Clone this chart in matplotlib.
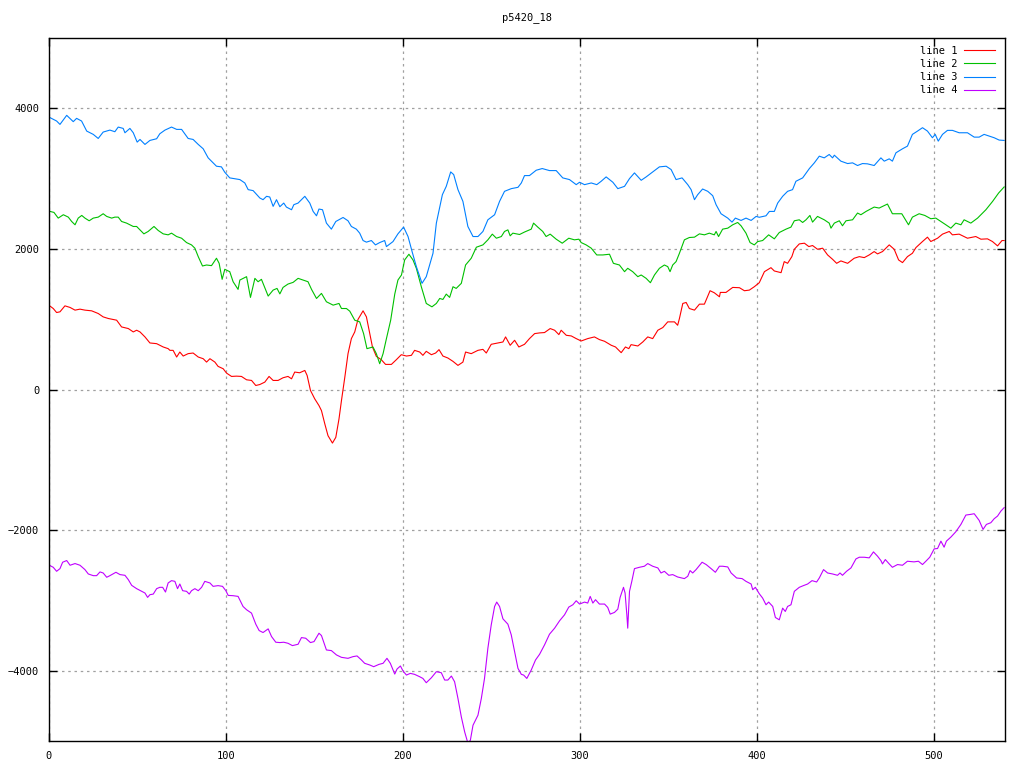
import matplotlib
matplotlib.use('Agg')
import matplotlib.pyplot as plt

# values (x, y)
line1_pts = [(0.6, 1186), (2.4, 1152), (4.3, 1095), (6.2, 1105), (9, 1190), (11.9, 1167), (14.7, 1129),
             (17.5, 1143), (20.3, 1129), (24.1, 1119), (27.8, 1081), (30.6, 1033), (33.5, 1010), (38.2, 986),
             (41, 890), (44.8, 867), (47.6, 819), (49.5, 843), (51.4, 819), (54.2, 748), (57, 662), (60.8, 652),
             (64.5, 605), (67.3, 581), (68.3, 557), (70.1, 557), (72.1, 462), (73.9, 533), (75.8, 476),
             (78.6, 510), (81.4, 519), (84.3, 462), (87.1, 438), (89, 390), (90.9, 438), (93.7, 390),
             (95.5, 329), (98.4, 295), (100.3, 233), (103.1, 186), (105.9, 190), (108.7, 186), (111.6, 138),
             (114.4, 129), (116.8, 57), (119.1, 71), (121.9, 105), (124.3, 186), (126.6, 129), (129.4, 129),
             (132.2, 167), (135, 186), (137, 152), (138.8, 248), (141.6, 238), (144.5, 271), (145.8, 200),
             (147.7, -14), (150.1, -133), (152.5, -229), (153.9, -300), (155.8, -490), (157.6, -657),
             (160.1, -762), (162, -681), (163.8, -419), (165.2, -157), (167.1, 176), (168.9, 510), (170.8, 724),
             (172.7, 819), (174.5, 995), (177.4, 1119), (179.3, 1033), (180.8, 843), (182.7, 605), (184.9, 471),
             (187.7, 424), (190.1, 357), (193.4, 357), (196.2, 424), (199, 495), (201.9, 476), (204.7, 486),
             (206.5, 557), (209.4, 533), (211.2, 486), (213.1, 543), (216, 495), (218.4, 519), (220.3, 567),
             (222.5, 476), (225.3, 448), (228.2, 400), (231, 343), (233.8, 390), (235.3, 533), (238.5, 510),
             (242.3, 557), (245.1, 571), (247, 519), (249.8, 643), (253.6, 662), (256.4, 676), (257.9, 748),
             (260.5, 629), (263, 700), (265.4, 605), (268.6, 643), (271.4, 724), (274.3, 795), (277.1, 805),
             (279.9, 810), (283.1, 867), (285.6, 843), (288, 781), (289.3, 843), (292.2, 771), (295, 762),
             (297.8, 724), (300.6, 690), (304.3, 724), (308.1, 748), (310.9, 710), (313.8, 686), (317.6, 629),
             (320, 605), (323.2, 524), (325.6, 605), (327.5, 581), (328.8, 638), (332.6, 619), (335.4, 676),
             (338.2, 748), (341, 724), (343.9, 843), (346.7, 881), (349.5, 962), (353.3, 962), (355.1, 914),
             (356.1, 1010), (358, 1224), (359.9, 1238), (361.7, 1152), (364.6, 1129), (367.4, 1214),
             (370.2, 1214), (373.4, 1405), (375.8, 1376), (378.7, 1319), (379.2, 1381), (382.4, 1381),
             (386.2, 1452), (390, 1448), (392.8, 1405), (395.6, 1414), (398.4, 1462), (401.2, 1519),
             (404.1, 1676), (407.8, 1733), (409.7, 1686), (413.5, 1662), (415.3, 1819), (417.2, 1795),
             (419.6, 1890), (421, 1995), (423.8, 2071), (426.7, 2081), (429.2, 2033), (431.3, 2048),
             (434.1, 1995), (437, 2010), (439.8, 1914), (442.6, 1852), (444.9, 1795), (447.3, 1829),
             (451.1, 1795), (454.8, 1867), (457.7, 1890), (460.5, 1876), (463.3, 1914), (466.1, 1962),
             (468, 1929), (470.8, 1962), (474.6, 2057), (477.4, 1995), (479.9, 1843), (482.1, 1805),
             (484.9, 1890), (487.7, 1938), (489.7, 2019), (493.4, 2105), (496.2, 2167), (498.1, 2105),
             (501.9, 2152), (504.7, 2210), (508.5, 2248), (510.3, 2200), (514.1, 2210), (518.8, 2152),
             (523.5, 2176), (526.4, 2138), (530.1, 2143), (532.9, 2105), (535.8, 2043), (538.3, 2119),
             (539.5, 2119)]

line2_pts = [(0.6, 2533), (2.8, 2519), (5.2, 2438), (8.1, 2486), (10.9, 2452), (12.8, 2390), (14.7, 2343),
             (16.5, 2438), (18.5, 2476), (20.3, 2438), (22.7, 2400), (25, 2438), (27.8, 2452), (30.6, 2500),
             (32.6, 2462), (35.4, 2438), (37.2, 2452), (39.1, 2452), (41, 2390), (43.8, 2367), (47.6, 2319),
             (49.5, 2319), (51.4, 2271), (53.6, 2214), (56, 2248), (59.3, 2319), (61.7, 2262), (64.5, 2214),
             (67.3, 2200), (69.2, 2224), (72.1, 2176), (74.9, 2152), (77.7, 2090), (80.5, 2057), (82.4, 2010),
             (84.3, 1890), (86.7, 1757), (89, 1771), (91.8, 1762), (94.6, 1867), (96.1, 1795), (97.8, 1567),
             (99.3, 1710), (102.1, 1676), (104, 1533), (106.8, 1424), (107.8, 1557), (111.6, 1605),
             (113.8, 1310), (116.3, 1581), (118.1, 1533), (120, 1567), (123.8, 1329), (126.6, 1414),
             (128.8, 1438), (130.4, 1360), (132.2, 1452), (135, 1500), (137.9, 1524), (140.7, 1581),
             (143.5, 1557), (146.3, 1533), (148.3, 1424), (151.1, 1295), (153.9, 1367), (156.7, 1248),
             (160.5, 1200), (163.8, 1224), (165.2, 1152), (168, 1152), (169.9, 1114), (172.7, 986),
             (175.5, 962), (177.7, 795), (179.6, 581), (183, 605), (184.9, 510), (186.8, 367), (188.7, 510),
             (190.6, 724), (193, 986), (195.3, 1357), (197.1, 1557), (199.1, 1629), (200.9, 1843),
             (203.3, 1924), (205.6, 1843), (207.5, 1724), (210.3, 1462), (213.1, 1224), (216.3, 1176),
             (218.8, 1224), (220.7, 1295), (222.5, 1281), (224.4, 1357), (226.3, 1310), (228.2, 1462),
             (230, 1438), (232.9, 1510), (235.3, 1771), (238.5, 1867), (241.4, 2024), (245.1, 2057),
             (247.9, 2129), (250.4, 2210), (252.7, 2152), (255.5, 2176), (257.3, 2248), (259.2, 2271),
             (260.5, 2186), (262, 2224), (265.8, 2205), (268.6, 2240), (272.4, 2281), (273.7, 2367),
             (276.1, 2310), (278.9, 2248), (280.8, 2176), (283.1, 2210), (286.5, 2138), (289.9, 2081),
             (293.6, 2152), (296.8, 2129), (299.3, 2138), (300.6, 2090), (303.4, 2057), (306.3, 2010),
             (309.4, 1914), (312.8, 1914), (316.6, 1924), (318.8, 1795), (322.2, 1771), (325.1, 1676),
             (326.9, 1724), (329.7, 1676), (332.6, 1605), (334.5, 1629), (337.3, 1581), (339.7, 1519),
             (342, 1629), (344.8, 1724), (347.6, 1771), (349.5, 1748), (350.8, 1676), (352.3, 1771),
             (354.2, 1819), (356.1, 1938), (358.9, 2129), (361.7, 2162), (364.6, 2167), (367.4, 2214),
             (370.2, 2200), (373, 2224), (375.8, 2200), (376.8, 2248), (378.2, 2176), (380.5, 2281),
             (383.4, 2295), (386.2, 2343), (389, 2376), (390.9, 2329), (393.7, 2224), (396, 2090),
             (398.4, 2057), (400.3, 2104), (403.1, 2119), (406.5, 2200), (409.7, 2143), (412.5, 2233),
             (416.3, 2281), (419.1, 2310), (421, 2400), (423.8, 2414), (425.7, 2376), (427.6, 2414),
             (429.8, 2476), (431.3, 2381), (434.1, 2462), (437.9, 2414), (440.7, 2367), (441.7, 2295),
             (443.6, 2367), (446.4, 2400), (448.2, 2329), (450.2, 2400), (453.9, 2414), (456.7, 2510),
             (458.6, 2486), (461.5, 2533), (466.1, 2595), (468.9, 2581), (473.6, 2638), (476.4, 2500),
             (481.7, 2500), (485.5, 2343), (487.7, 2452), (491.5, 2500), (494.7, 2476), (498.1, 2429),
             (500.9, 2438), (503.8, 2390), (506.6, 2343), (509.4, 2295), (512.2, 2367), (515.1, 2343),
             (516.9, 2414), (520.7, 2367), (524.5, 2438), (529.2, 2557), (533, 2676), (536.4, 2795),
             (539.5, 2881)]

line3_pts = [(0.6, 3867), (4.3, 3819), (6.2, 3771), (10, 3900), (13.7, 3810), (15.6, 3857), (18.4, 3819),
             (21.3, 3676), (25, 3629), (27.8, 3571), (30.6, 3662), (34.4, 3690), (37.2, 3667), (39.1, 3733),
             (41.9, 3714), (42.9, 3652), (45.7, 3714), (47.6, 3652), (49.8, 3519), (51.4, 3557), (54.2, 3486),
             (57, 3543), (60.8, 3567), (62.6, 3638), (65.5, 3690), (69.2, 3733), (72.1, 3700), (74.9, 3700),
             (78.6, 3571), (81.4, 3557), (84.3, 3486), (87.1, 3424), (89.9, 3295), (92.7, 3224), (94.6, 3176),
             (97.4, 3167), (99.3, 3090), (102.1, 3010), (105.9, 2995), (107.8, 2986), (110.6, 2938),
             (112.5, 2843), (115.3, 2829), (119.1, 2724), (120.9, 2700), (122.9, 2748), (124.7, 2738),
             (126.6, 2605), (128.5, 2700), (130.4, 2600), (132.6, 2652), (134.1, 2595), (137, 2557),
             (138.3, 2629), (140.7, 2652), (144.5, 2748), (147.3, 2652), (149.2, 2533), (151.1, 2471),
             (152.5, 2567), (154.5, 2557), (156.7, 2367), (159.5, 2281), (162, 2390), (166.1, 2447),
             (168.9, 2400), (170.8, 2319), (173.6, 2281), (175.5, 2224), (177.4, 2119), (179.3, 2096),
             (182.1, 2119), (184.4, 2057), (186.8, 2090), (189.6, 2119), (190.6, 2033), (194.3, 2104),
             (197.1, 2214), (200.3, 2310), (202.8, 2176), (205.2, 1952), (207.5, 1748), (210.7, 1510),
             (213.1, 1605), (216.9, 1938), (218.8, 2367), (222.2, 2771), (224.4, 2890), (226.9, 3095),
             (228.6, 3057), (231, 2843), (233.8, 2676), (236.6, 2319), (239.5, 2176), (242.3, 2176),
             (245.1, 2248), (247.9, 2414), (251.7, 2486), (254.5, 2676), (257.3, 2819), (261.1, 2857),
             (264.9, 2876), (266.8, 2938), (268.6, 3043), (271.4, 3043), (275.2, 3119), (278.6, 3143),
             (282.7, 3114), (286.5, 3114), (290.2, 3010), (294, 2986), (297.8, 2914), (299.7, 2948),
             (302.5, 2914), (306.3, 2938), (309.4, 2914), (311.9, 2962), (314.7, 3024), (318.5, 2948),
             (321.3, 2857), (325.1, 2890), (327.9, 3000), (330.7, 3081), (334.5, 2976), (337.3, 3024),
             (341, 3095), (344.8, 3167), (348.6, 3176), (351.4, 3129), (354.2, 2986), (357.6, 3010),
             (360.8, 2914), (362.7, 2843), (364.6, 2700), (366.4, 2771), (369.2, 2852), (372.1, 2819),
             (374.9, 2757), (376.8, 2629), (379.6, 2500), (383.4, 2438), (385.8, 2381), (387.7, 2438),
             (390.9, 2405), (393.7, 2438), (396.6, 2405), (399.4, 2462), (401.2, 2450), (405, 2471),
             (406.9, 2533), (409.7, 2533), (411.6, 2652), (414.4, 2748), (417.2, 2819), (420, 2843),
             (421.9, 2962), (425.7, 3010), (429.5, 3143), (432.3, 3224), (435.1, 3319), (437.9, 3295),
             (440.7, 3343), (442.6, 3295), (443.6, 3333), (447.3, 3248), (451.1, 3214), (453.9, 3224),
             (456.7, 3186), (459.5, 3214), (462.3, 3210), (466.1, 3186), (469.9, 3295), (471.8, 3248),
             (474.6, 3281), (476.4, 3248), (478.4, 3367), (482.1, 3424), (484.9, 3462), (487.7, 3629),
             (490.6, 3676), (493.4, 3724), (496.2, 3676), (499, 3581), (500.6, 3629), (502.3, 3533),
             (504.7, 3629), (507.5, 3686), (510.3, 3686), (514.1, 3652), (518.8, 3652), (522.6, 3590),
             (525.4, 3590), (528.2, 3629), (531, 3605), (533.9, 3581), (536.7, 3548), (539.5, 3543)]

line4_pts = [(0.6, -2505), (2.4, -2529), (4.3, -2586), (6.2, -2548), (7.7, -2457), (10, -2433), (11.9, -2500),
             (14.7, -2476), (17.5, -2500), (20.3, -2562), (22.2, -2624), (25, -2648), (26.9, -2648),
             (28.8, -2595), (30.6, -2610), (32.6, -2671), (34.4, -2648), (37.8, -2600), (40.1, -2633),
             (42.9, -2643), (44.8, -2705), (46.7, -2786), (49.5, -2833), (52.3, -2871), (54.2, -2895),
             (55.7, -2957), (57, -2919), (58.9, -2910), (60.8, -2833), (62.6, -2814), (64.2, -2814),
             (65.8, -2881), (67.3, -2752), (69.2, -2719), (71.1, -2729), (72.6, -2833), (73.9, -2767),
             (75.5, -2862), (77.7, -2871), (79.2, -2910), (80.5, -2862), (82.4, -2833), (84.3, -2862),
             (86.2, -2814), (88, -2729), (90.9, -2752), (92.7, -2800), (95.5, -2790), (98, -2800),
             (99.9, -2862), (101.2, -2929), (104, -2933), (106.8, -2943), (109.6, -3086), (111.6, -3133),
             (114.4, -3181), (116.8, -3338), (118.7, -3429), (120.9, -3457), (123.8, -3405), (125.7, -3514),
             (128.1, -3595), (130.4, -3600), (132.6, -3595), (135, -3610), (137.5, -3643), (140.7, -3624),
             (142.6, -3529), (145, -3538), (147.7, -3600), (149.7, -3586), (152.5, -3467), (153.9, -3500),
             (156.7, -3705), (159.5, -3714), (162.4, -3776), (165.2, -3810), (168.9, -3824), (171.7, -3800),
             (174, -3790), (176.5, -3848), (178.3, -3895), (181.2, -3919), (183.4, -3943), (186.4, -3910),
             (188.7, -3895), (190.9, -3824), (192.8, -3895), (195.3, -4048), (196.6, -3976), (198.5, -3933),
             (200, -4005), (201.9, -4062), (204.1, -4038), (206.5, -4052), (209.4, -4086), (211.2, -4110),
             (213.1, -4171), (216, -4100), (218.8, -4014), (221.6, -4029), (223.5, -4133), (225.3, -4133),
             (227.3, -4076), (229.1, -4157), (231, -4395), (232.9, -4657), (234.8, -4871), (236.6, -5030),
             (238, -4990), (239.5, -4776), (242.3, -4633), (244.2, -4395), (246, -4110), (247.9, -3681),
             (249.8, -3348), (251.7, -3086), (252.9, -3024), (254.5, -3086), (256.4, -3262), (259.2, -3338),
             (261.1, -3490), (263, -3729), (264.9, -3967), (266.8, -4052), (268.1, -4062), (269.9, -4110),
             (272.4, -3990), (274.8, -3848), (277.1, -3767), (279.9, -3633), (282.7, -3481), (285.6, -3395),
             (288.4, -3290), (291.2, -3205), (293.6, -3095), (295.9, -3062), (297.8, -3005), (299.7, -3052),
             (302.5, -3024), (304.3, -3038), (305.7, -2943), (307.2, -3038), (308.7, -2990), (310.9, -3052),
             (313.8, -3052), (315.6, -3100), (317, -3195), (319.4, -3171), (321.3, -3124), (322.6, -2957),
             (324.5, -2814), (325.4, -2895), (326.4, -3205), (326.9, -3395), (327.9, -2871), (329.2, -2729),
             (330.7, -2548), (333.5, -2529), (336.3, -2514), (338.2, -2476), (341, -2514), (343.9, -2538),
             (345.7, -2610), (347.6, -2586), (350.1, -2643), (352.3, -2633), (355.1, -2667), (358.9, -2690),
             (360.8, -2657), (362.1, -2576), (363.6, -2610), (365.5, -2562), (368.9, -2457), (371.2, -2490),
             (374, -2548), (376.4, -2600), (378.7, -2514), (380.5, -2514), (383.4, -2524), (385.3, -2610),
             (388.4, -2681), (391.5, -2690), (393.7, -2729), (396.6, -2767), (397.5, -2848), (399, -2814),
             (401.2, -2905), (403.1, -2967), (405, -3062), (406.5, -3024), (408.8, -3086), (410.3, -3243),
             (412.5, -3276), (414.4, -3110), (415.9, -3157), (417.2, -3086), (419.1, -3062), (421, -2871),
             (423.8, -2814), (426.1, -2790), (428.5, -2767), (431, -2719), (433.6, -2738), (435.1, -2681),
             (437.5, -2562), (439.8, -2610), (442.6, -2624), (445.4, -2643), (446.8, -2610), (448.2, -2643),
             (450.5, -2586), (453, -2538), (455.8, -2410), (457.7, -2386), (460.5, -2386), (463.3, -2395),
             (465.7, -2310), (468, -2371), (469.9, -2433), (470.8, -2481), (472.4, -2419), (474.6, -2481),
             (476.4, -2529), (479.3, -2490), (482.1, -2500), (484.9, -2443), (488.6, -2452), (491.1, -2443),
             (493.4, -2490), (495.3, -2443), (497.5, -2386), (500, -2267), (501.9, -2262), (503.8, -2157),
             (505.6, -2243), (506.9, -2157), (509.4, -2100), (512.2, -2024), (515.1, -1919), (517.9, -1786),
             (520.7, -1776), (522.6, -1767), (525.4, -1862), (527.6, -1990), (529.5, -1919), (532, -1895),
             (533.9, -1838), (535.8, -1800), (537.7, -1729), (539.5, -1681)]

labels = ['line 1', 'line 2', 'line 3', 'line 4']
colors = ['#ff0000', '#00c000', '#0080ff', '#c000ff']
x_ticks = [0, 100, 200, 300, 400, 500]
y_ticks = [-4000, -2000, 0, 2000, 4000]

font = 'DejaVu Sans Mono'

fig = plt.figure(figsize=(10.24, 7.68), dpi=100)
ax = fig.add_axes([49 / 1024, 1 - 741 / 768, (1005 - 49) / 1024, (741 - 38) / 768])

for pts, lab, col in zip([line1_pts, line2_pts, line3_pts, line4_pts], labels, colors):
    xs, ys = zip(*pts)
    ax.plot(xs, ys, color=col, lw=0.8, label=lab)

ax.set_xlim(0, 540)
ax.set_ylim(-5000, 5000)
ax.set_xticks(x_ticks)
ax.set_yticks(y_ticks)
ax.grid(True, color='#a0a0a0', linestyle=(0, (2, 3)), linewidth=0.9)
ax.tick_params(direction='in', top=True, right=True, length=6, width=1, labelsize=7.5, pad=7)
for lbl in ax.get_xticklabels() + ax.get_yticklabels():
    lbl.set_fontfamily(font)
for sp in ax.spines.values():
    sp.set_linewidth(1.0)

fig.text(527 / 1024, 1 - 18 / 768, 'p5420_18', ha='center', va='center', fontsize=7.5, family=font)

ax.legend(loc='upper right', bbox_to_anchor=(995 / 1024, 1 - 46 / 768), bbox_transform=fig.transFigure,
          frameon=False, markerfirst=False, borderpad=0, borderaxespad=0, handlelength=3.0,
          handletextpad=0.6, labelspacing=0.3, prop={'family': font, 'size': 7.5})

fig.savefig('out.png', dpi=100)
